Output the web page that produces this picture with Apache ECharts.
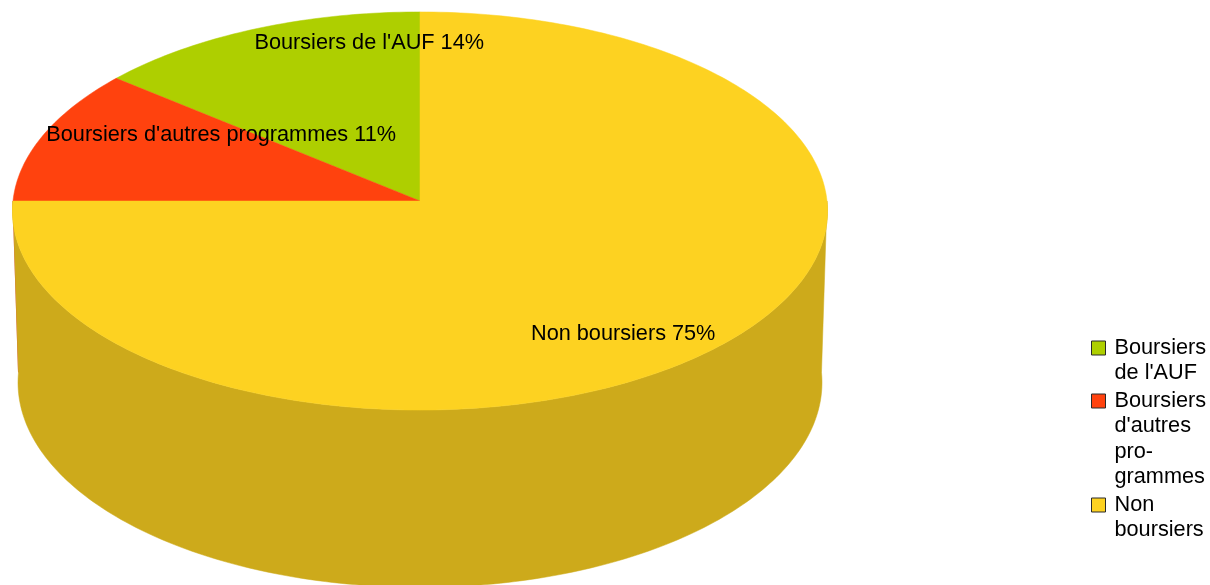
<!DOCTYPE html>
<html>
<head>
<meta charset="utf-8">
<script src="https://cdn.jsdelivr.net/npm/echarts@6/dist/echarts.min.js"></script>
<style>
html, body { margin: 0; padding: 0; background: #fff; }
#chart { width: 1210px; height: 585px; }
</style>
</head>
<body>
<div id="chart"></div>
<script>
// données
const categories = ["Boursiers de l'AUF", "Boursiers d'autres programmes", "Non boursiers"];
const percents = [14, 11, 75];
const legendLabels = ["Boursiers\nde l'AUF", "Boursiers\nd'autres\npro-\ngrammes", "Non\nboursiers"];

// couleurs
const topColors = ['#aecf00', '#ff420e', '#fdd221'];
const sideColors = ['#8ba600', '#cc350b', '#cdaa1b'];

// camembert 3D : projection en perspective
const CX = 420, CY = 201;
const TILT = 29.2 * Math.PI / 180;
const DIST = 17.4;          // distance caméra (en rayons)
const FOCAL = 407 * DIST;   // px
const DEPTH = 0.489;        // épaisseur (en rayons)
const FONT = 'Liberation Sans';
const FONT_SIZE = 21.7;

// ancrage des étiquettes sur la face du dessus : [angle en degrés, fraction du rayon]
const labelAnchors = [[98.9, 0.84], [145.9, 0.60], [306.6, 0.81]];

const total = percents.reduce((a, b) => a + b, 0);

function project(theta, r, z) {
    const X = r * Math.cos(theta), Y = r * Math.sin(theta);
    const depth = DIST + Y * Math.cos(TILT) - z * Math.sin(TILT);
    const up = Y * Math.sin(TILT) + z * Math.cos(TILT);
    return [CX + FOCAL * X / depth, CY - FOCAL * up / depth];
}

function arc(a0, a1, r, z) {
    const pts = [];
    const n = Math.max(2, Math.ceil(Math.abs(a1 - a0) / (Math.PI / 180)));
    for (let k = 0; k <= n; k++) {
        pts.push(project(a0 + (a1 - a0) * k / n, r, z));
    }
    return pts;
}

function renderSlice(idx) {
    return function (params, api) {
        const before = percents.slice(0, idx).reduce((a, b) => a + b, 0);
        const value = api.value(0);
        const a0 = Math.PI / 2 + before / total * 2 * Math.PI;
        const a1 = a0 + value / total * 2 * Math.PI;
        const children = [];

        // paroi avant (visible entre 180° et 360°)
        const s = Math.max(a0, Math.PI), e = Math.min(a1, 2 * Math.PI);
        if (e > s) {
            const top = arc(s, e, 1, 0);
            const bottom = arc(e, s, 1, -DEPTH);
            children.push({
                type: 'polygon', z2: 1,
                shape: { points: top.concat(bottom) },
                style: { fill: sideColors[idx], stroke: sideColors[idx], lineWidth: 0.5 }
            });
        }

        // face du dessus
        children.push({
            type: 'polygon', z2: 2,
            shape: { points: [project(0, 0, 0)].concat(arc(a0, a1, 1, 0)) },
            style: { fill: topColors[idx], stroke: topColors[idx], lineWidth: 0.5 }
        });

        // étiquette
        const la = labelAnchors[idx];
        const lp = project(la[0] * Math.PI / 180, la[1], 0);
        children.push({
            type: 'text', z2: 3, x: lp[0], y: lp[1],
            style: {
                text: categories[idx] + ' ' + Math.round(value / total * 100) + '%',
                fill: '#000', fontSize: FONT_SIZE, fontFamily: FONT,
                align: 'center', verticalAlign: 'middle'
            }
        });
        return { type: 'group', children: children };
    };
}

const series = categories.map((name, i) => ({
    type: 'custom',
    name: name,
    coordinateSystem: 'none',
    data: [[percents[i]]],
    itemStyle: { color: topColors[i] },
    renderItem: renderSlice(i),
    silent: true
}));

// légende : une par catégorie ; des lignes vides au-dessus du texte
// placent la première ligne au niveau de l'icône
const LH = 25.5;
let lineY = 348;
const legends = categories.map((name, i) => {
    const n = legendLabels[i].split('\n').length;
    const boxH = (2 * n - 1) * LH;
    const item = {
        orient: 'vertical',
        left: 1091,
        top: lineY - boxH / 2,
        padding: 0,
        itemWidth: 14,
        itemHeight: 14,
        icon: 'rect',
        selectedMode: false,
        data: [name],
        formatter: () => '\n'.repeat(n - 1) + legendLabels[i],
        itemStyle: { borderColor: '#2a2a2a', borderWidth: 1 },
        textStyle: {
            fontSize: FONT_SIZE, fontFamily: FONT, color: '#000',
            lineHeight: LH, padding: [0, 0, 0, 4]
        }
    };
    lineY += n * LH + 2;
    return item;
});

const chart = echarts.init(document.getElementById('chart'));
chart.setOption({
    animation: false,
    backgroundColor: '#fff',
    legend: legends,
    series: series
});
</script>
</body>
</html>
